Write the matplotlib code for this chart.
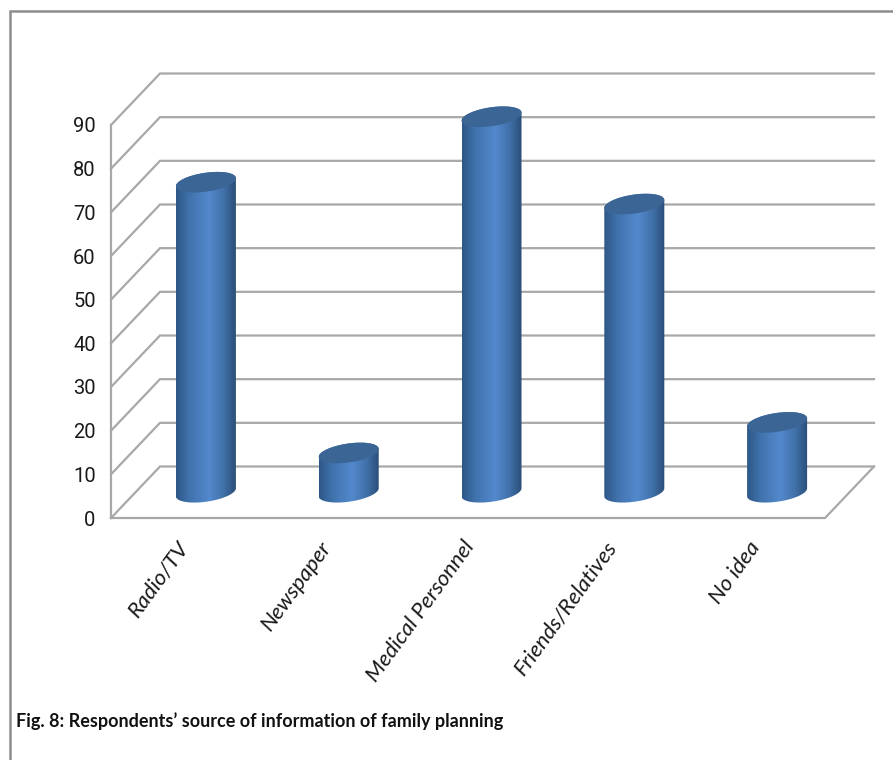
import numpy as np
import matplotlib
matplotlib.use('Agg')
import matplotlib.pyplot as plt
from matplotlib.lines import Line2D
from matplotlib.patches import Polygon
from matplotlib.colors import LinearSegmentedColormap
from matplotlib.transforms import ScaledTranslation

categories = ['Radio/TV', 'Newspaper', 'Medical Personnel', 'Friends/Relatives', 'No idea']
values = [71, 9, 86, 66, 16]
y_ticks = [0, 10, 20, 30, 40, 50, 60, 70, 80, 90]

plt.rcParams['font.family'] = ['Lato', 'DejaVu Sans']

W, H = 893, 760
fig = plt.figure(figsize=(W / 100, H / 100), dpi=100)
ax = fig.add_axes([111 / W, (H - 518) / H, (825 - 111) / W, (518 - 125) / H])
ax.set_xlim(0, 5)
ax.set_ylim(0, 90)
ax.patch.set_visible(False)
for s in ax.spines.values():
    s.set_visible(False)

# pixel size of one data unit, used for the depth of the 3d box
px_x = (825 - 111) / 5
px_y = (518 - 125) / 90
depth_x = 49 / px_x
depth_y = 51.5 / px_y

grid_color = '#a8a8a8'
grid_lw = 1.6

# walls and floor
for v in y_ticks:
    ax.plot([0, depth_x, 5 + depth_x], [v, v + depth_y, v + depth_y],
            color=grid_color, lw=grid_lw, clip_on=False, zorder=1,
            solid_joinstyle='miter')
ax.plot([0, 0], [0, 90], color=grid_color, lw=grid_lw, clip_on=False, zorder=1)
ax.plot([0, 5, 5 + depth_x], [0, 0, depth_y], color=grid_color, lw=grid_lw,
        clip_on=False, zorder=1, solid_joinstyle='miter')

# shading across the cylinder, dark edges and a light band right of centre
shade = LinearSegmentedColormap.from_list('shade', [
    (0.0, '#2d5787'), (0.22, '#4072ac'), (0.55, '#5389cd'),
    (0.8, '#4070a8'), (1.0, '#2b4e78')])
grad = np.linspace(0, 1, 256).reshape(1, -1)

half_w = 30 / px_x
tilt = 4 / px_y
minor = 9.5 / px_y
t = np.linspace(0, 2 * np.pi, 121)


def ellipse(xc, yc):
    return xc + half_w * np.cos(t), yc + tilt * np.cos(t) + minor * np.sin(t)


for i, val in enumerate(values):
    xc = i + 0.5 + depth_x / 2 - 1 / px_x
    y0 = depth_y / 2
    y1 = val + y0

    # body: the front half of the base ellipse joined to the top ellipse
    ex, ey = ellipse(xc, y0)
    low = (t >= np.pi) & (t <= 2 * np.pi)
    tx, ty = ellipse(xc, y1)
    high = t <= np.pi
    outline = np.column_stack([np.r_[ex[low], tx[high]], np.r_[ey[low], ty[high]]])
    body = Polygon(outline, closed=True, fc='none', ec='none', clip_on=False)
    ax.add_patch(body)
    img = ax.imshow(grad, cmap=shade, aspect='auto', interpolation='bilinear',
                    extent=[xc - half_w, xc + half_w, y0 - minor - tilt, y1 + minor + tilt],
                    zorder=3)
    img.set_clip_box(fig.bbox)  # the tallest bar pokes out above the axes box
    img.set_clip_path(body)

    ax.fill(tx, ty, color='#3b6594', lw=0, zorder=4, clip_on=False)

ax.set_xlim(0, 5)
ax.set_ylim(0, 90)

ax.set_yticks(y_ticks)
ax.tick_params(axis='y', length=0, pad=11, labelsize=14.5, labelcolor='#1a1a1a')
for lab in ax.get_yticklabels():
    lab.set_family(['Roboto', 'DejaVu Sans'])
ax.set_xticks(np.arange(5) + 0.5)
ax.set_xticklabels(categories, rotation=54, ha='right', va='top',
                   rotation_mode='anchor', style='italic', fontsize=16, color='#1a1a1a')
ax.tick_params(axis='x', length=0, pad=14)
nudge = ScaledTranslation(-6 / 100, 0, fig.dpi_scale_trans)
for lab in ax.get_xticklabels():
    lab.set_transform(lab.get_transform() + nudge)

# outer frame of the chart area
frame = '#8c8c8c'
fig.add_artist(Line2D([9.5 / W, 9.5 / W, 1], [0, (H - 10.5) / H, (H - 10.5) / H],
                      color=frame, lw=1.8, solid_joinstyle='miter'))

fig.text(16 / W, (H - 727) / H, 'Fig. 8: Respondents\u2019 source of information of family planning',
         fontsize=13, fontweight='bold', color='#111111', ha='left', va='baseline')

fig.savefig('out.png', dpi=100)
